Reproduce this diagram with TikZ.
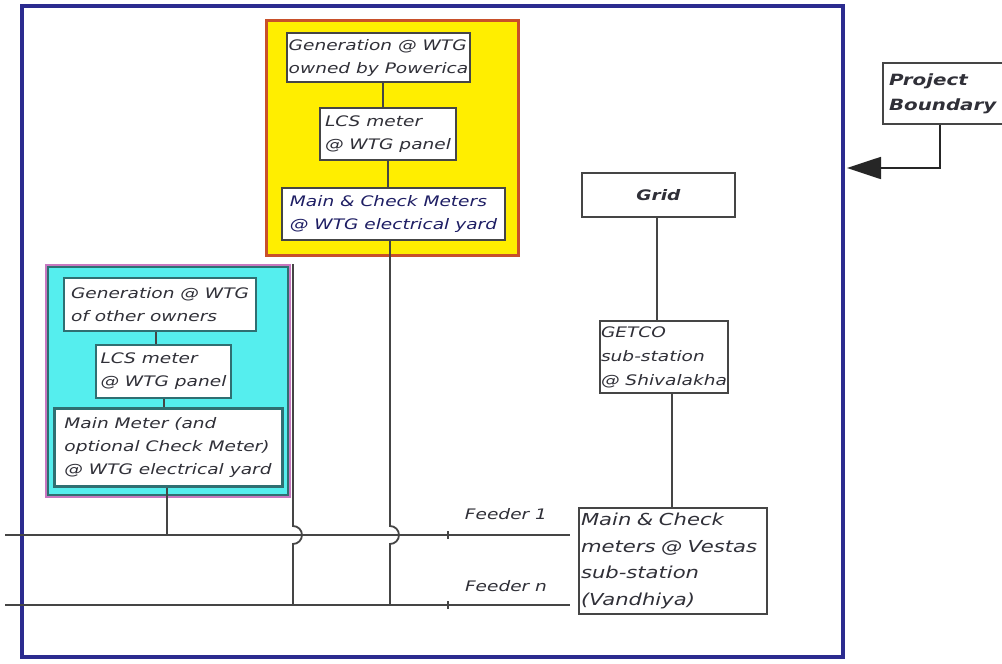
\documentclass[tikz,border=0pt]{standalone}
\usepackage{fontspec}
\usetikzlibrary{arrows.meta}
\newfontfamily\df{DejaVu Sans}[FakeStretch=1.28]
\definecolor{bnd}{HTML}{2B2B8F}
\definecolor{ylw}{HTML}{FFEE00}
\definecolor{ybrd}{HTML}{C8502A}
\definecolor{cyn}{HTML}{55EEEE}
\definecolor{cbrd}{HTML}{C878C0}
\definecolor{teal}{HTML}{2F6F72}
\definecolor{lin}{HTML}{454545}
\definecolor{txt}{HTML}{303038}
\tikzset{
  lbl/.style={font=\df\itshape\fontsize{14.5}{23}\selectfont, text=txt},
  ybox/.style={draw=lin, line width=2pt, fill=white, lbl, align=left, inner sep=1pt},
  cbox/.style={draw=teal, line width=2pt, fill=white, lbl, align=left, inner sep=1pt},
  gbox/.style={draw=lin, line width=2pt, fill=white, lbl, align=left, inner sep=3pt},
  wire/.style={draw=lin, line width=1.8pt},
}
\begin{document}
\begin{tikzpicture}[x=1pt,y=-1pt]
\useasboundingbox (0,0) rectangle (1002,664);
\fill[white] (0,0) rectangle (1002,664);
% project boundary
\draw[bnd, line width=4pt] (22,6) rectangle (843,657);

% yellow container
\node[draw=ybrd, line width=3pt, fill=ylw, minimum width=252, minimum height=235] (Y) at (392,137.5) {};
\node[ybox, minimum width=183, minimum height=49] (G1) at (378.5,57.5) {Generation @ WTG\\owned by Powerica};
\node[ybox, minimum width=136, minimum height=52] (L1) at (388,134) {LCS meter\\@ WTG panel};
\node[ybox, minimum width=223, minimum height=52, text=bnd!70!black] (M1) at (393.5,214) {Main \& Check Meters\\@ WTG electrical yard};
\draw[wire] (383,0 |- G1.south) -- (383,0 |- L1.north);
\draw[wire] (388,0 |- L1.south) -- (388,0 |- M1.north);

% cyan container
\node[draw=cbrd, line width=2pt, fill=cyn, minimum width=244, minimum height=232] (C) at (168,381) {};
\draw[teal, line width=1.5pt] ([shift={(3pt,-3pt)}]C.north west) rectangle ([shift={(-3pt,3pt)}]C.south east);
\node[cbox, minimum width=192, minimum height=53] (GA) at (160,304.5) {Generation @ WTG\\of other owners};
\node[cbox, minimum width=135, minimum height=53] (LB) at (163.5,371.5) {LCS meter\\@ WTG panel};
\node[cbox, line width=3pt, minimum width=228, minimum height=78] (MC) at (168,447) {Main Meter (and\\optional Check Meter)\\@ WTG electrical yard};
\draw[wire] (156,0 |- GA.south) -- (156,0 |- LB.north);
\draw[wire] (164,0 |- LB.south) -- (164,0 |- MC.north);

% grid side
\node[gbox, font=\df\bfseries\itshape\fontsize{14.5}{23}\selectfont, minimum width=153, minimum height=44] (Gr) at (658.5,195) {Grid};
\node[gbox, font=\df\itshape\fontsize{14.5}{24}\selectfont, minimum width=128, minimum height=72, inner sep=1pt] (GE) at (664,357) {GETCO\\sub-station\\@ Shivalakha};
\node[gbox, font=\df\itshape\fontsize{16.5}{26.5}\selectfont, text width=184, minimum height=106, inner sep=2pt] (V) at (673,561) {Main \& Check\\meters @ Vestas\\sub-station\\(Vandhiya)};
\draw[wire] (657,0 |- Gr.south) -- (657,0 |- GE.north);
\draw[wire] (672,0 |- GE.south) -- (672,0 |- V.north);

% feeders
\coordinate (f1s) at (5,535);
\coordinate (f1e) at (570,535);
\coordinate (fns) at (5,605);
\coordinate (fne) at (570,605);
\draw[wire] (f1s) -- (f1e);
\draw[wire] (fns) -- (fne);
\draw[wire] (448,531) -- (448,539);
\draw[wire] (448,601) -- (448,609);
\node[lbl, anchor=center] (F1) at (506,514) {Feeder 1};
\node[lbl, anchor=center] (Fn) at (506,586) {Feeder n};

\draw[wire] (MC.south -| 167,0) -- (167,0 |- f1s);
\draw[wire] (293,0 |- C.north) -- (293,526) arc(-90:90:9) -- (293,0 |- fns);
\draw[wire] (390,0 |- M1.south) -- (390,526) arc(-90:90:9) -- (390,0 |- fns);

% project boundary label
\node[gbox, font=\df\bfseries\itshape\fontsize{15.5}{25}\selectfont, anchor=north west, text width=115, minimum height=61, inner sep=6pt] (PB) at (882,62) {Project\\Boundary};
\draw[wire, -{Triangle[length=34pt,width=22pt]}, color=black!85] (940,0 |- PB.south) -- (940,168) -- (847,168);
\end{tikzpicture}
\end{document}
